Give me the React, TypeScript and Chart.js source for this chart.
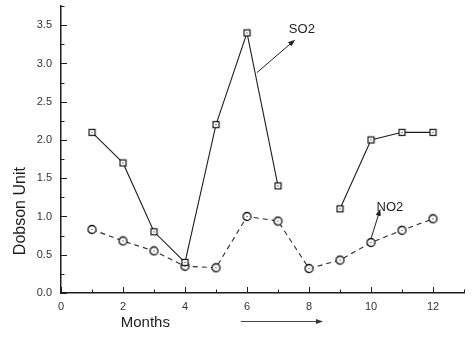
import React, { useEffect, useRef } from "react";
import { Chart, registerables } from "chart.js";

Chart.register(...registerables);

const months = [1, 2, 3, 4, 5, 6, 7, 8, 9, 10, 11, 12];
const so2 = [2.1, 1.7, 0.8, 0.4, 2.2, 3.4, 1.4, null, 1.1, 2.0, 2.1, 2.1];
const no2 = [0.83, 0.68, 0.55, 0.35, 0.33, 1.0, 0.94, 0.32, 0.43, 0.66, 0.82, 0.97];
const xTicks = [0, 2, 4, 6, 8, 10, 12];
const xMinorTicks = [1, 3, 5, 7, 9, 11, 13];
const yTicks = [0, 0.5, 1.0, 1.5, 2.0, 2.5, 3.0, 3.5];
const yMinorTicks = [0.25, 0.75, 1.25, 1.75, 2.25, 2.75, 3.25, 3.75];

const INK = "#1e1e1e";
const FONT = "'Liberation Sans', Arial, Helvetica, sans-serif";

function makeMarker(shape: "square" | "circle"): HTMLCanvasElement {
  const size = shape === "square" ? 9 : 11;
  const c = document.createElement("canvas");
  c.width = size;
  c.height = size;
  const g = c.getContext("2d")!;
  g.fillStyle = "#fff";
  g.strokeStyle = "#111";
  g.lineWidth = 1.2;
  if (shape === "square") {
    g.fillRect(1, 1, 7, 7);
    g.strokeRect(1.5, 1.5, 6, 6);
  } else {
    g.beginPath();
    g.arc(5.5, 5.5, 4, 0, Math.PI * 2);
    g.fill();
    g.lineWidth = 1.3;
    g.stroke();
  }
  g.fillStyle = "#111";
  const m = Math.floor(size / 2);
  g.fillRect(m, m, 1, 1);
  return c;
}

function arrow(ctx: CanvasRenderingContext2D, x1: number, y1: number, x2: number, y2: number) {
  const ang = Math.atan2(y2 - y1, x2 - x1);
  const hl = 7;
  const hw = 2.6;
  ctx.beginPath();
  ctx.moveTo(x1, y1);
  ctx.lineTo(x2 - Math.cos(ang) * hl * 0.8, y2 - Math.sin(ang) * hl * 0.8);
  ctx.stroke();
  ctx.beginPath();
  ctx.moveTo(x2, y2);
  ctx.lineTo(
    x2 - Math.cos(ang) * hl - Math.sin(ang) * hw,
    y2 - Math.sin(ang) * hl + Math.cos(ang) * hw
  );
  ctx.lineTo(
    x2 - Math.cos(ang) * hl + Math.sin(ang) * hw,
    y2 - Math.sin(ang) * hl - Math.cos(ang) * hw
  );
  ctx.closePath();
  ctx.fill();
}

const decorPlugin = {
  id: "decor",
  afterDatasetsDraw(chart: any) {
    const { ctx, chartArea } = chart;
    const xs = chart.scales.x;
    const ys = chart.scales.y;
    ctx.save();
    ctx.strokeStyle = INK;
    ctx.fillStyle = INK;
    ctx.lineWidth = 1;
    // inward tick marks
    xTicks.forEach((v) => {
      const px = Math.round(xs.getPixelForValue(v)) + 0.5;
      ctx.beginPath();
      ctx.moveTo(px, chartArea.bottom);
      ctx.lineTo(px, chartArea.bottom - 6);
      ctx.stroke();
    });
    xMinorTicks.forEach((v) => {
      const px = Math.round(xs.getPixelForValue(v)) + 0.5;
      ctx.beginPath();
      ctx.moveTo(px, chartArea.bottom);
      ctx.lineTo(px, chartArea.bottom - 3.5);
      ctx.stroke();
    });
    yTicks.forEach((v) => {
      const py = Math.round(ys.getPixelForValue(v)) + 0.5;
      ctx.beginPath();
      ctx.moveTo(chartArea.left, py);
      ctx.lineTo(chartArea.left + 6, py);
      ctx.stroke();
    });
    yMinorTicks.forEach((v) => {
      const py = Math.round(ys.getPixelForValue(v)) + 0.5;
      ctx.beginPath();
      ctx.moveTo(chartArea.left, py);
      ctx.lineTo(chartArea.left + 3.5, py);
      ctx.stroke();
    });

    // annotations
    ctx.lineWidth = 1;
    arrow(ctx, xs.getPixelForValue(6.32), ys.getPixelForValue(2.88), xs.getPixelForValue(7.55), ys.getPixelForValue(3.31));
    arrow(ctx, xs.getPixelForValue(10.0), ys.getPixelForValue(0.71), xs.getPixelForValue(10.3), ys.getPixelForValue(1.1));
    ctx.font = `13px ${FONT}`;
    ctx.textBaseline = "middle";
    ctx.textAlign = "left";
    ctx.fillText("SO2", xs.getPixelForValue(7.35), ys.getPixelForValue(3.45));
    ctx.fillText("NO2", xs.getPixelForValue(10.18), ys.getPixelForValue(1.12));

    // months arrow
    ctx.strokeStyle = "#444";
    ctx.fillStyle = "#333";
    arrow(ctx, xs.getPixelForValue(5.8), chartArea.bottom + 28.5, xs.getPixelForValue(8.45), chartArea.bottom + 28.5);

    // axis titles
    ctx.fillStyle = INK;
    ctx.font = `15px ${FONT}`;
    ctx.textAlign = "center";
    ctx.fillText("Months", xs.getPixelForValue(2.72), chartArea.bottom + 30);
    ctx.translate(21, ys.getPixelForValue(1.07));
    ctx.rotate(-Math.PI / 2);
    ctx.font = `16px ${FONT}`;
    ctx.fillText("Dobson Unit", 0, 0);
    ctx.restore();
  },
};

export default function App() {
  const ref = useRef<HTMLCanvasElement>(null);
  useEffect(() => {
    document.body.style.margin = "0";
    const sq = makeMarker("square");
    const ci = makeMarker("circle");
    const chart = new Chart(ref.current!, {
      type: "line",
      data: {
        datasets: [
          {
            label: "SO2",
            data: months.map((m, i) => ({ x: m, y: so2[i] })) as any,
            borderColor: INK,
            borderWidth: 1.1,
            pointStyle: sq as any,
            pointRadius: 4,
            spanGaps: false,
            tension: 0,
          },
          {
            label: "NO2",
            data: months.map((m, i) => ({ x: m, y: no2[i] })) as any,
            borderColor: "#2a2a2a",
            borderWidth: 1.1,
            borderDash: [5, 4],
            pointStyle: ci as any,
            pointRadius: 5,
            tension: 0,
          },
        ],
      },
      options: {
        animation: false,
        responsive: true,
        maintainAspectRatio: false,
        layout: { padding: { top: 4, right: 10, left: 0, bottom: 0 } },
        plugins: { legend: { display: false }, tooltip: { enabled: false } },
        scales: {
          x: {
            type: "linear",
            min: 0,
            max: 13,
            afterBuildTicks: (s: any) => {
              s.ticks = xTicks.map((v) => ({ value: v }));
            },
            afterFit: (s: any) => {
              s.height = 59;
              s.paddingLeft = 0;
              s.paddingRight = 0;
            },
            grid: { display: false, drawTicks: false },
            border: { display: true, color: INK, width: 1.5 },
            ticks: {
              color: "#333",
              padding: 7,
              font: { family: FONT, size: 11 },
              maxRotation: 0,
            },
          },
          y: {
            type: "linear",
            min: 0,
            max: 3.75,
            afterBuildTicks: (s: any) => {
              s.ticks = yTicks.map((v) => ({ value: v }));
            },
            afterFit: (s: any) => {
              s.width = 61;
              s.paddingTop = 0;
              s.paddingBottom = 0;
            },
            grid: { display: false, drawTicks: false },
            border: { display: true, color: INK, width: 1.5 },
            ticks: {
              color: "#333",
              padding: 9,
              font: { family: FONT, size: 11 },
              callback: (v: any) => Number(v).toFixed(1),
            },
          },
        },
      },
      plugins: [decorPlugin],
    });
    return () => chart.destroy();
  }, []);
  return (
    <div style={{ position: "absolute", left: 0, top: 0, width: 474, height: 352, background: "#fff" }}>
      <canvas ref={ref} />
    </div>
  );
}
